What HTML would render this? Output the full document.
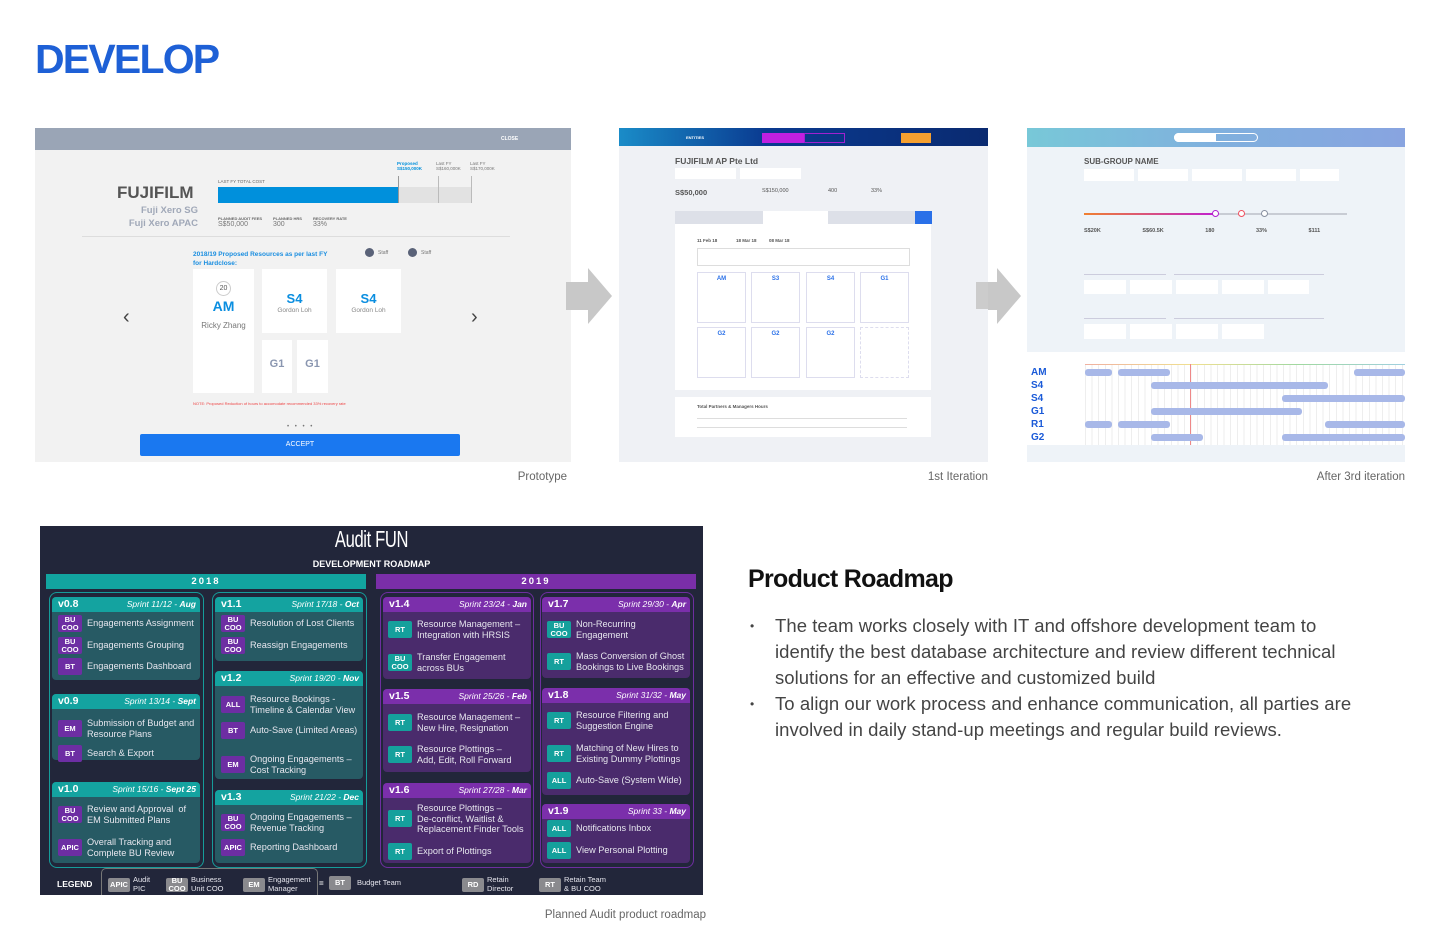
<!DOCTYPE html>
<html><head><meta charset="utf-8">
<style>
*{margin:0;padding:0;box-sizing:border-box}
body{width:1440px;height:936px;background:#fff;position:relative;overflow:hidden;font-family:"Liberation Sans",sans-serif}
.a{position:absolute}
.cap{position:absolute;font-size:11.5px;color:#666;text-align:right}
.rm{position:absolute;left:40px;top:526px;width:663px;height:369px;background:#22263a}
.col{position:absolute;border-radius:8px}
.c18{border:1.5px solid #169c9a}
.c19{border:1.5px solid #6e2ea0}
.card{position:absolute;border-radius:4px;overflow:hidden}
.k18{background:#275a64}
.k19{background:#4a2b6c}
.hd{height:15px;position:relative;color:#fff}
.k18 .hd{background:#14a3a0}
.k19 .hd{background:#7b2fab}
.hd b{position:absolute;left:6px;top:1px;font-size:10.5px}
.hd i{position:absolute;right:4px;top:2px;font-size:8.5px}
.it{position:absolute;display:flex;align-items:center;color:#e6e6ee;font-size:9.2px;line-height:10.5px}
.bd{width:24px;height:17px;border-radius:2px;color:#fff;font-weight:bold;font-size:7.5px;line-height:7.5px;display:flex;align-items:center;justify-content:center;text-align:center;margin-right:5px;flex:none}
.p{background:#6d2ea3}.t{background:#15a09c}.g{background:#8a8a8e}
.ss{position:absolute;overflow:hidden}
</style></head><body>

<div class="a" style="left:35px;top:36px;font-size:41px;font-weight:bold;color:#1e60d6;letter-spacing:-1.8px">DEVELOP</div>

<!-- Screenshot 1 -->
<div class="ss" style="left:35px;top:128px;width:536px;height:334px;background:#f2f2f2">
 <div class="a" style="left:0;top:0;width:536px;height:22px;background:#9aa5b6"></div>
 <div class="a" style="left:466px;top:8px;font-size:5px;color:#fff;font-weight:bold">CLOSE</div>
 <div class="a" style="left:82px;top:55px;font-size:17px;font-weight:bold;color:#555">FUJIFILM</div>
 <div class="a" style="left:60px;top:76px;width:103px;text-align:right;font-size:9.5px;font-weight:bold;color:#a0a8b8;line-height:13px">Fuji Xero SG<br>Fuji Xero APAC</div>
 <div class="a" style="left:183px;top:51px;font-size:4.5px;color:#666">LAST FY TOTAL COST</div>
 <div class="a" style="left:183px;top:59px;width:254px;height:16px;background:#e2e2e2"></div>
 <div class="a" style="left:183px;top:59px;width:180px;height:16px;background:#0090dc"></div>
 <div class="a" style="left:363px;top:48px;width:1px;height:27px;background:#999"></div>
 <div class="a" style="left:403px;top:48px;width:1px;height:27px;background:#bbb"></div>
 <div class="a" style="left:436px;top:48px;width:1px;height:27px;background:#bbb"></div>
 <div class="a" style="left:362px;top:33px;font-size:4.5px;color:#0090dc;font-weight:bold">Proposed<br>S$150,000K</div>
 <div class="a" style="left:401px;top:33px;font-size:4.5px;color:#777">Last FY<br>S$160,000K</div>
 <div class="a" style="left:435px;top:33px;font-size:4.5px;color:#777">Last FY<br>S$170,000K</div>
 <div class="a" style="left:183px;top:88px;font-size:4px;color:#666;font-weight:bold">PLANNED AUDIT FEES</div>
 <div class="a" style="left:183px;top:93px;font-size:7px;color:#777">S$50,000</div>
 <div class="a" style="left:238px;top:88px;font-size:4px;color:#666;font-weight:bold">PLANNED HRS</div>
 <div class="a" style="left:238px;top:93px;font-size:7px;color:#777">300</div>
 <div class="a" style="left:278px;top:88px;font-size:4px;color:#666;font-weight:bold">RECOVERY RATE</div>
 <div class="a" style="left:278px;top:93px;font-size:7px;color:#777">33%</div>
 <div class="a" style="left:47px;top:108px;width:428px;height:1px;background:#ddd"></div>
 <div class="a" style="left:158px;top:122px;font-size:6.5px;font-weight:bold;color:#1a8ee0;line-height:9px">2018/19 Proposed Resources as per last FY<br>for Hardclose:</div>
 <div class="a" style="left:330px;top:120px;width:9px;height:9px;border-radius:50%;background:#5a6278"></div>
 <div class="a" style="left:343px;top:122px;font-size:5px;color:#777">Staff</div>
 <div class="a" style="left:373px;top:120px;width:9px;height:9px;border-radius:50%;background:#5a6278"></div>
 <div class="a" style="left:386px;top:122px;font-size:5px;color:#777">Staff</div>
 <div class="a" style="left:158px;top:141px;width:61px;height:124px;background:#fff"></div>
 <div class="a" style="left:158px;top:170px;width:61px;text-align:center;font-size:14px;font-weight:bold;color:#0a8ee0">AM</div>
 <div class="a" style="left:158px;top:193px;width:61px;text-align:center;font-size:8px;color:#777">Ricky Zhang</div>
 <div class="a" style="left:181px;top:153px;width:15px;height:15px;border-radius:50%;border:1px solid #ccc;font-size:7px;text-align:center;line-height:13px;color:#555">20</div>
 <div class="a" style="left:227px;top:141px;width:65px;height:64px;background:#fff"></div>
 <div class="a" style="left:227px;top:163px;width:65px;text-align:center;font-size:13px;font-weight:bold;color:#0a8ee0">S4</div>
 <div class="a" style="left:227px;top:179px;width:65px;text-align:center;font-size:6.5px;color:#888">Gordon Loh</div>
 <div class="a" style="left:301px;top:141px;width:65px;height:64px;background:#fff"></div>
 <div class="a" style="left:301px;top:163px;width:65px;text-align:center;font-size:13px;font-weight:bold;color:#0a8ee0">S4</div>
 <div class="a" style="left:301px;top:179px;width:65px;text-align:center;font-size:6.5px;color:#888">Gordon Loh</div>
 <div class="a" style="left:227px;top:212px;width:30px;height:53px;background:#fff"></div>
 <div class="a" style="left:227px;top:230px;width:30px;text-align:center;font-size:11px;font-weight:bold;color:#8a96b0">G1</div>
 <div class="a" style="left:262px;top:212px;width:31px;height:53px;background:#fff"></div>
 <div class="a" style="left:262px;top:230px;width:31px;text-align:center;font-size:11px;font-weight:bold;color:#8a96b0">G1</div>
 <div class="a" style="left:158px;top:273px;font-size:4px;color:#e44">NOTE: Proposed Reduction of hours to accomodate recommended 33% recovery rate</div>
 <div class="a" style="left:88px;top:178px;font-size:20px;color:#444">‹</div>
 <div class="a" style="left:436px;top:178px;font-size:20px;color:#444">›</div>
 <div class="a" style="left:252px;top:296px;font-size:6px;color:#777;letter-spacing:2px">• • • •</div>
 <div class="a" style="left:105px;top:306px;width:320px;height:22px;background:#1a78f0;border-radius:2px;color:#fff;font-size:7px;text-align:center;line-height:22px">ACCEPT</div>
</div>

<svg class="a" style="left:566px;top:268px" width="48" height="56"><polygon points="0,14 22,14 22,0 46,28 22,56 22,42 0,42" fill="#c8c8c8"/></svg>
<svg class="a" style="left:975px;top:268px" width="48" height="56"><polygon points="0,14 22,14 22,0 46,28 22,56 22,42 0,42" fill="#c8c8c8"/></svg>

<!-- Screenshot 2 -->
<div class="ss" style="left:619px;top:128px;width:369px;height:334px;background:#eff1f5">
 <div class="a" style="left:0;top:0;width:369px;height:18px;background:linear-gradient(90deg,#1a8cc8,#0a3a90 40%,#0a2a70)"></div>
 <div class="a" style="left:67px;top:7px;font-size:4px;color:#fff;font-weight:bold">ENTITIES</div>
 <div class="a" style="left:143px;top:5px;width:42px;height:10px;background:#c020e0"></div>
 <div class="a" style="left:185px;top:5px;width:41px;height:10px;border:1px solid #a020d0"></div>
 <div class="a" style="left:282px;top:5px;width:30px;height:10px;background:#f5a030"></div>
 <div class="a" style="left:56px;top:28px;font-size:8.5px;font-weight:bold;color:#555">FUJIFILM AP Pte Ltd</div>
 <div class="a" style="left:56px;top:40px;width:61px;height:11px;background:#fff"></div>
 <div class="a" style="left:121px;top:40px;width:61px;height:11px;background:#fff"></div>
 <div class="a" style="left:56px;top:60px;font-size:7.5px;color:#555;font-weight:bold">S$50,000</div>
 <div class="a" style="left:143px;top:60px;font-size:5.5px;color:#555">S$150,000</div>
 <div class="a" style="left:209px;top:60px;font-size:5.5px;color:#555">400</div>
 <div class="a" style="left:252px;top:60px;font-size:5.5px;color:#555">33%</div>
 <div class="a" style="left:56px;top:83px;width:256px;height:13px;background:#dde0e8"></div>
 <div class="a" style="left:144px;top:83px;width:65px;height:13px;background:#fff"></div>
 <div class="a" style="left:296px;top:83px;width:17px;height:13px;background:#2a70e8"></div>
 <div class="a" style="left:56px;top:96px;width:256px;height:166px;background:#fff"></div>
 <div class="a" style="left:78px;top:110px;font-size:4.5px;color:#555;font-weight:bold">11 Feb 18 &nbsp;&nbsp;&nbsp;&nbsp;&nbsp;&nbsp;&nbsp;&nbsp;&nbsp;&nbsp;&nbsp;&nbsp;&nbsp; 18 Mar 18 &nbsp;&nbsp;&nbsp;&nbsp;&nbsp;&nbsp;&nbsp;&nbsp; 08 Mar 18</div>
 <div class="a" style="left:78px;top:120px;width:213px;height:18px;border:1px solid #ddd"></div>
 <div class="a" style="left:78px;top:144px;width:49px;height:51px;border:1px solid #dde"></div>
 <div class="a" style="left:132px;top:144px;width:49px;height:51px;border:1px solid #dde"></div>
 <div class="a" style="left:187px;top:144px;width:49px;height:51px;border:1px solid #dde"></div>
 <div class="a" style="left:241px;top:144px;width:49px;height:51px;border:1px solid #dde"></div>
 <div class="a" style="left:78px;top:199px;width:49px;height:51px;border:1px solid #dde"></div>
 <div class="a" style="left:132px;top:199px;width:49px;height:51px;border:1px solid #dde"></div>
 <div class="a" style="left:187px;top:199px;width:49px;height:51px;border:1px solid #dde"></div>
 <div class="a" style="left:241px;top:199px;width:49px;height:51px;border:1px dashed #dde"></div>
 <div class="a" style="left:78px;top:148px;width:49px;text-align:center;font-size:6px;font-weight:bold;color:#2a70e8">AM</div>
 <div class="a" style="left:132px;top:148px;width:49px;text-align:center;font-size:6px;font-weight:bold;color:#2a70e8">S3</div>
 <div class="a" style="left:187px;top:148px;width:49px;text-align:center;font-size:6px;font-weight:bold;color:#2a70e8">S4</div>
 <div class="a" style="left:241px;top:148px;width:49px;text-align:center;font-size:6px;font-weight:bold;color:#2a70e8">G1</div>
 <div class="a" style="left:78px;top:203px;width:49px;text-align:center;font-size:6px;font-weight:bold;color:#2a70e8">G2</div>
 <div class="a" style="left:132px;top:203px;width:49px;text-align:center;font-size:6px;font-weight:bold;color:#2a70e8">G2</div>
 <div class="a" style="left:187px;top:203px;width:49px;text-align:center;font-size:6px;font-weight:bold;color:#2a70e8">G2</div>
 <div class="a" style="left:56px;top:269px;width:256px;height:40px;background:#fff"></div>
 <div class="a" style="left:78px;top:276px;font-size:4.5px;font-weight:bold;color:#555">Total Partners &amp; Managers Hours</div>
 <div class="a" style="left:78px;top:290px;width:210px;height:10px;border-top:1px solid #ddd;border-bottom:1px solid #ddd"></div>
 <div class="a" style="left:357px;top:154px;width:12px;height:27px;background:#ccc"></div>
</div>

<!-- Screenshot 3 -->
<div class="ss" style="left:1027px;top:128px;width:378px;height:334px;background:#eef3f8">
 <div class="a" style="left:0;top:0;width:378px;height:19px;background:linear-gradient(90deg,#78c8d8,#80b0de 50%,#88a4e0)"></div>
 <div class="a" style="left:147px;top:5px;width:84px;height:9px;border:1px solid #fff;border-radius:5px"></div>
 <div class="a" style="left:147px;top:5px;width:42px;height:9px;background:#fff;border-radius:5px 0 0 5px"></div>
 <div class="a" style="left:57px;top:29px;font-size:8px;font-weight:bold;color:#555">SUB-GROUP NAME</div>
 <div class="a" style="left:57px;top:41px;width:255px;height:12px;background:repeating-linear-gradient(90deg,#fff 0,#fff 50px,#eef3f8 50px,#eef3f8 54px)"></div>
 <div class="a" style="left:57px;top:85px;width:263px;height:2px;background:#c8ccd4"></div>
 <div class="a" style="left:57px;top:85px;width:132px;height:2px;background:linear-gradient(90deg,#f08030,#c020d0)"></div>
 <div class="a" style="left:185px;top:82px;width:7px;height:7px;border-radius:50%;border:1.5px solid #b020d0;background:#fff"></div>
 <div class="a" style="left:211px;top:82px;width:7px;height:7px;border-radius:50%;border:1.5px solid #f05060;background:#fff"></div>
 <div class="a" style="left:234px;top:82px;width:7px;height:7px;border-radius:50%;border:1.5px solid #8890a0;background:#fff"></div>
 <div class="a" style="left:57px;top:100px;font-size:5.5px;font-weight:bold;color:#555;word-spacing:40px">S$20K S$60.5K 180 33% $111</div>
 <div class="a" style="left:57px;top:138px;width:82px;height:9px;border-bottom:1px solid #ccd"></div>
 <div class="a" style="left:147px;top:138px;width:150px;height:9px;border-bottom:1px solid #ccd"></div>
 <div class="a" style="left:57px;top:152px;width:225px;height:14px;background:repeating-linear-gradient(90deg,#fff 0,#fff 42px,#eef3f8 42px,#eef3f8 46px)"></div>
 <div class="a" style="left:57px;top:182px;width:82px;height:9px;border-bottom:1px solid #ccd"></div>
 <div class="a" style="left:147px;top:182px;width:150px;height:9px;border-bottom:1px solid #ccd"></div>
 <div class="a" style="left:57px;top:196px;width:180px;height:15px;background:repeating-linear-gradient(90deg,#fff 0,#fff 42px,#eef3f8 42px,#eef3f8 46px)"></div>
 <div class="a" style="left:0;top:224px;width:378px;height:93px;background:#fff"></div>
 <div class="a" style="left:58px;top:236px;width:320px;height:1px;background:linear-gradient(90deg,#f0b0a0,#f0e090,#a0d8a0,#a0d0e0)"></div>
 <div class="a" style="left:58px;top:237px;width:320px;height:80px;background:repeating-linear-gradient(90deg,#eee 0,#eee 1px,transparent 1px,transparent 6.6px)"></div>
 <div class="a" style="left:163px;top:236px;width:1px;height:81px;background:#e88"></div>
 <div class="a" style="left:4px;top:238px;font-size:10px;font-weight:bold;color:#1a5ad8;line-height:13px">AM<br>S4<br>S4<br>G1<br>R1<br>G2</div>
 <div class="a" style="left:58px;top:241px;width:27px;height:7px;background:#a8b8e8;border-radius:3px"></div>
 <div class="a" style="left:91px;top:241px;width:52px;height:7px;background:#a8b8e8;border-radius:3px"></div>
 <div class="a" style="left:327px;top:241px;width:51px;height:7px;background:#a8b8e8;border-radius:3px"></div>
 <div class="a" style="left:124px;top:254px;width:177px;height:7px;background:#a8b8e8;border-radius:3px"></div>
 <div class="a" style="left:255px;top:267px;width:123px;height:7px;background:#a8b8e8;border-radius:3px"></div>
 <div class="a" style="left:124px;top:280px;width:151px;height:7px;background:#a8b8e8;border-radius:3px"></div>
 <div class="a" style="left:58px;top:293px;width:27px;height:7px;background:#a8b8e8;border-radius:3px"></div>
 <div class="a" style="left:91px;top:293px;width:52px;height:7px;background:#a8b8e8;border-radius:3px"></div>
 <div class="a" style="left:298px;top:293px;width:80px;height:7px;background:#a8b8e8;border-radius:3px"></div>
 <div class="a" style="left:124px;top:306px;width:52px;height:7px;background:#a8b8e8;border-radius:3px"></div>
 <div class="a" style="left:255px;top:306px;width:123px;height:7px;background:#a8b8e8;border-radius:3px"></div>
</div>

<div class="cap" style="left:400px;top:471px;width:167px">Prototype</div>
<div class="cap" style="left:800px;top:471px;width:188px">1st Iteration</div>
<div class="cap" style="left:1200px;top:471px;width:205px">After 3rd iteration</div>

<!-- Roadmap -->
<div class="rm">
 <div class="a" style="left:0;top:0;width:663px;text-align:center;font-size:23px;color:#fff;font-weight:300;transform:scaleX(0.72);letter-spacing:-0.5px">Audit FUN</div>
 <div class="a" style="left:0;top:33px;width:663px;text-align:center;font-size:9px;color:#fff;font-weight:bold">DEVELOPMENT ROADMAP</div>
 <div class="a" style="left:6px;top:48px;width:320px;height:15px;background:#12a4a0;color:#fff;font-weight:bold;font-size:9.5px;text-align:center;line-height:15px;letter-spacing:2px">2018</div>
 <div class="a" style="left:336px;top:48px;width:320px;height:15px;background:#7a2ea8;color:#fff;font-weight:bold;font-size:9.5px;text-align:center;line-height:15px;letter-spacing:2px">2019</div>
 <div class="col c18" style="left:9px;top:66px;width:155px;height:276px"></div>
 <div class="col c18" style="left:172px;top:66px;width:155px;height:276px"></div>
 <div class="col c19" style="left:340px;top:66px;width:154px;height:276px"></div>
 <div class="col c19" style="left:500px;top:66px;width:154px;height:276px"></div>
</div>

<div class="card k18" style="left:52px;top:597px;width:148px;height:83px"><div class="hd"><b>v0.8</b><i>Sprint 11/12 - <b style="position:static;font-size:8.5px">Aug</b></i></div></div>
<div class="card k18" style="left:52px;top:694px;width:148px;height:66px"><div class="hd"><b>v0.9</b><i>Sprint 13/14 - <b style="position:static;font-size:8.5px">Sept</b></i></div></div>
<div class="card k18" style="left:52px;top:782px;width:148px;height:81px"><div class="hd"><b>v1.0</b><i>Sprint 15/16 - <b style="position:static;font-size:8.5px">Sept 25</b></i></div></div>
<div class="card k18" style="left:215px;top:597px;width:148px;height:64px"><div class="hd"><b>v1.1</b><i>Sprint 17/18 - <b style="position:static;font-size:8.5px">Oct</b></i></div></div>
<div class="card k18" style="left:215px;top:671px;width:148px;height:108px"><div class="hd"><b>v1.2</b><i>Sprint 19/20 - <b style="position:static;font-size:8.5px">Nov</b></i></div></div>
<div class="card k18" style="left:215px;top:790px;width:148px;height:73px"><div class="hd"><b>v1.3</b><i>Sprint 21/22 - <b style="position:static;font-size:8.5px">Dec</b></i></div></div>
<div class="card k19" style="left:383px;top:597px;width:148px;height:82px"><div class="hd"><b>v1.4</b><i>Sprint 23/24 - <b style="position:static;font-size:8.5px">Jan</b></i></div></div>
<div class="card k19" style="left:383px;top:689px;width:148px;height:83px"><div class="hd"><b>v1.5</b><i>Sprint 25/26 - <b style="position:static;font-size:8.5px">Feb</b></i></div></div>
<div class="card k19" style="left:383px;top:783px;width:148px;height:80px"><div class="hd"><b>v1.6</b><i>Sprint 27/28 - <b style="position:static;font-size:8.5px">Mar</b></i></div></div>
<div class="card k19" style="left:542px;top:597px;width:148px;height:81px"><div class="hd"><b>v1.7</b><i>Sprint 29/30 - <b style="position:static;font-size:8.5px">Apr</b></i></div></div>
<div class="card k19" style="left:542px;top:688px;width:148px;height:107px"><div class="hd"><b>v1.8</b><i>Sprint 31/32 - <b style="position:static;font-size:8.5px">May</b></i></div></div>
<div class="card k19" style="left:542px;top:804px;width:148px;height:59px"><div class="hd"><b>v1.9</b><i>Sprint 33 - <b style="position:static;font-size:8.5px">May</b></i></div></div>

<div class="it" style="left:58px;top:615px"><span class="bd p">BU<br>COO</span>Engagements Assignment</div>
<div class="it" style="left:58px;top:637px"><span class="bd p">BU<br>COO</span>Engagements Grouping</div>
<div class="it" style="left:58px;top:658px"><span class="bd p">BT</span>Engagements Dashboard</div>
<div class="it" style="left:58px;top:718px"><span class="bd p">EM</span>Submission of Budget and<br>Resource Plans</div>
<div class="it" style="left:58px;top:745px"><span class="bd p">BT</span>Search &amp; Export</div>
<div class="it" style="left:58px;top:804px"><span class="bd p">BU<br>COO</span>Review and Approval &nbsp;of<br>EM Submitted Plans</div>
<div class="it" style="left:58px;top:837px"><span class="bd p">APIC</span>Overall Tracking and<br>Complete BU Review</div>

<div class="it" style="left:221px;top:615px"><span class="bd p">BU<br>COO</span>Resolution of Lost Clients</div>
<div class="it" style="left:221px;top:637px"><span class="bd p">BU<br>COO</span>Reassign Engagements</div>
<div class="it" style="left:221px;top:694px"><span class="bd p">ALL</span>Resource Bookings -<br>Timeline &amp; Calendar View</div>
<div class="it" style="left:221px;top:722px"><span class="bd p">BT</span>Auto-Save (Limited Areas)</div>
<div class="it" style="left:221px;top:754px"><span class="bd p">EM</span>Ongoing Engagements –<br>Cost Tracking</div>
<div class="it" style="left:221px;top:812px"><span class="bd p">BU<br>COO</span>Ongoing Engagements –<br>Revenue Tracking</div>
<div class="it" style="left:221px;top:839px"><span class="bd p">APIC</span>Reporting Dashboard</div>

<div class="it" style="left:388px;top:619px"><span class="bd t">RT</span>Resource Management –<br>Integration with HRSIS</div>
<div class="it" style="left:388px;top:652px"><span class="bd t">BU<br>COO</span>Transfer Engagement<br>across BUs</div>
<div class="it" style="left:388px;top:712px"><span class="bd t">RT</span>Resource Management –<br>New Hire, Resignation</div>
<div class="it" style="left:388px;top:744px"><span class="bd t">RT</span>Resource Plottings –<br>Add, Edit, Roll Forward</div>
<div class="it" style="left:388px;top:803px"><span class="bd t">RT</span>Resource Plottings –<br>De-conflict, Waitlist &amp;<br>Replacement Finder Tools</div>
<div class="it" style="left:388px;top:843px"><span class="bd t">RT</span>Export of Plottings</div>

<div class="it" style="left:547px;top:619px"><span class="bd t">BU<br>COO</span>Non-Recurring<br>Engagement</div>
<div class="it" style="left:547px;top:651px"><span class="bd t">RT</span>Mass Conversion of Ghost<br>Bookings to Live Bookings</div>
<div class="it" style="left:547px;top:710px"><span class="bd t">RT</span>Resource Filtering and<br>Suggestion Engine</div>
<div class="it" style="left:547px;top:743px"><span class="bd t">RT</span>Matching of New Hires to<br>Existing Dummy Plottings</div>
<div class="it" style="left:547px;top:772px"><span class="bd t">ALL</span>Auto-Save (System Wide)</div>
<div class="it" style="left:547px;top:820px"><span class="bd t">ALL</span>Notifications Inbox</div>
<div class="it" style="left:547px;top:842px"><span class="bd t">ALL</span>View Personal Plotting</div>

<div class="a" style="left:57px;top:879px;font-size:8.5px;font-weight:bold;color:#fff">LEGEND</div>
<div class="a" style="left:101px;top:868px;width:217px;height:27px;border:1.5px solid #777;border-bottom:none;border-radius:5px 5px 0 0"></div>
<div class="it" style="left:108px;top:876px;font-size:7.5px;line-height:8.5px"><span class="bd g" style="height:14px;width:22px;margin-right:3px">APIC</span>Audit<br>PIC</div>
<div class="it" style="left:166px;top:876px;font-size:7.5px;line-height:8.5px"><span class="bd g" style="height:14px;width:22px;margin-right:3px">BU<br>COO</span>Business<br>Unit COO</div>
<div class="it" style="left:243px;top:876px;font-size:7.5px;line-height:8.5px"><span class="bd g" style="height:14px;width:22px;margin-right:3px">EM</span>Engagement<br>Manager</div>
<div class="a" style="left:319px;top:879px;font-size:8px;color:#fff;font-weight:bold">=</div>
<div class="it" style="left:329px;top:876px;font-size:7.5px;line-height:8.5px"><span class="bd g" style="height:14px;width:22px;margin-right:6px">BT</span>Budget Team</div>
<div class="it" style="left:462px;top:876px;font-size:7.5px;line-height:8.5px"><span class="bd g" style="height:14px;width:22px;margin-right:3px">RD</span>Retain<br>Director</div>
<div class="it" style="left:539px;top:876px;font-size:7.5px;line-height:8.5px"><span class="bd g" style="height:14px;width:22px;margin-right:3px">RT</span>Retain Team<br>&amp; BU COO</div>

<div class="cap" style="left:400px;top:909px;width:306px">Planned Audit product roadmap</div>

<div class="a" style="left:748px;top:565px;font-size:25px;font-weight:bold;color:#111;letter-spacing:-0.7px">Product Roadmap</div>
<div class="a" style="left:750px;top:613px;font-size:18.5px;line-height:26px;color:#444;font-weight:300;letter-spacing:0.05px;white-space:nowrap">
 <div style="position:relative;padding-left:25px"><span style="position:absolute;left:0;font-size:12px">•</span>The team works closely with IT and offshore development team to<br>identify the best database architecture and review different technical<br>solutions for an effective and customized build</div>
 <div style="position:relative;padding-left:25px"><span style="position:absolute;left:0;font-size:12px">•</span>To align our work process and enhance communication, all parties are<br>involved in daily stand-up meetings and regular build reviews.</div>
</div>
</body></html>
